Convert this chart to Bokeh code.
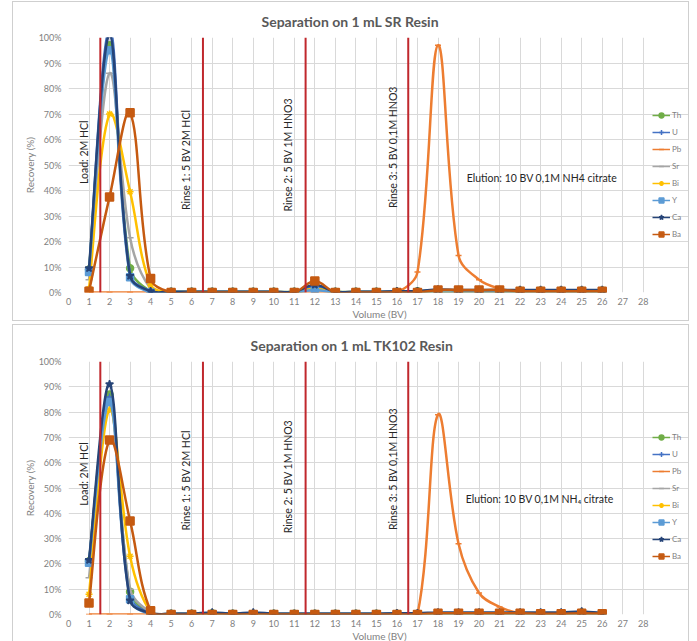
from bokeh.plotting import figure
from bokeh.layouts import column
from bokeh.models import (Range1d, FixedTicker, PrintfTickFormatter, Legend, LegendItem)
from bokeh.core.properties import value
from bokeh.embed import file_html
from bokeh.resources import INLINE
import math

# ---------------- data ----------------
volume = list(range(1, 27))
elements = ["Th", "U", "Pb", "Sr", "Bi", "Y", "Ca", "Ba"]

sr_Th = [9, 97, 9.5, 0.5, 0.3, 0.3, 0.3, 0.3, 0.3, 0.3, 0.3, 2, 0.3, 0.3, 0.3, 0.3, 0.5, 0.8, 0.8, 0.8, 0.8, 0.8, 0.8, 0.8, 0.8, 0.8]
sr_U = [8, 104, 7, 0.5, 0.2, 0.2, 0.2, 0.2, 0.2, 0.2, 0.2, 2.5, 0.2, 0.2, 0.2, 0.2, 0.5, 0.8, 0.8, 0.8, 0.8, 0.8, 0.8, 0.8, 0.8, 0.8]
sr_Pb = [0, 0, 0, 0, 0, 0, 0, 0, 0, 0, 0, 0, 0, 0, 0, 0, 8, 97, 14.5, 5, 1.5, 0.3, 0.3, 0.3, 0.3, 0.3]
sr_Sr = [5, 86, 21.5, 1.5, 0.2, 0.2, 0.2, 0.2, 0.2, 0.2, 0.2, 1, 0.2, 0.2, 0.2, 0.2, 0.2, 0.3, 0.3, 0.3, 0.3, 0.3, 0.3, 0.3, 0.3, 0.3]
sr_Bi = [1.5, 70, 39.5, 3, 0, 0, 0, 0, 0, 0, 0, 1.5, 0, 0, 0, 0, 0, 0.2, 0.2, 0.2, 0.2, 0.2, 0.2, 0.2, 0.2, 0.2]
sr_Y = [8, 95, 6, 0, 0, 0, 0, 0, 0, 0, 0, 1, 0, 0, 0, 0, 0, 0, 0, 0, 0, 0, 0, 0, 0, 0]
sr_Ca = [9.5, 101, 6.5, 0.5, 0.3, 0.3, 0.3, 0.3, 0.3, 0.3, 0.3, 3, 0.3, 0.3, 0.3, 0.5, 0.5, 1.2, 1, 1, 1, 1, 1, 1, 1, 1]
sr_Ba = [0.5, 37.5, 70.5, 5.5, 0, 0, 0, 0, 0, 0, 0, 4.5, 0, 0, 0, 0, 0, 1, 1, 1, 1, 0.5, 0.5, 0.5, 0.5, 0.5]

tk_Th = [21, 87, 9, 0.5, 0.3, 0.3, 0.5, 0.3, 0.3, 0.3, 0.3, 0.3, 0.3, 0.3, 0.3, 0.3, 0.3, 0.5, 0.5, 0.5, 0.5, 0.5, 0.5, 0.5, 0.8, 0.5]
tk_U = [21, 86, 7, 0.5, 0.3, 0.3, 0.5, 0.3, 0.5, 0.3, 0.3, 0.3, 0.3, 0.3, 0.3, 0.3, 0.3, 0.5, 0.5, 0.5, 0.5, 0.5, 0.5, 0.5, 1, 0.5]
tk_Pb = [0, 0, 0, 0, 0, 0, 0, 0, 0, 0, 0, 0, 0, 0, 0, 0, 0, 79, 28, 8.5, 3, 0.5, 0.3, 0.3, 0.3, 0.3]
tk_Sr = [14.5, 84, 10, 1, 0.2, 0.2, 0.2, 0.2, 0.2, 0.2, 0.2, 0.2, 0.2, 0.2, 0.2, 0.2, 0.2, 0.3, 0.3, 0.3, 0.3, 0.3, 0.3, 0.3, 0.3, 0.3]
tk_Bi = [8, 81, 23, 1, 0, 0, 0, 0, 0, 0, 0, 0, 0, 0, 0, 0, 0, 0.2, 0.2, 0.2, 0.2, 0.2, 0.2, 0.2, 0.2, 0.2]
tk_Y = [20.5, 84, 6, 0, 0, 0, 0, 0, 0, 0, 0, 0, 0, 0, 0, 0, 0, 0, 0, 0, 0, 0, 0, 0, 0, 0]
tk_Ca = [21.5, 91, 5.5, 0.5, 0.3, 0.3, 0.8, 0.3, 0.8, 0.3, 0.3, 0.3, 0.3, 0.3, 0.3, 0.5, 0.5, 0.8, 0.8, 0.8, 0.8, 0.8, 0.8, 0.8, 1.2, 0.5]
tk_Ba = [4.5, 69, 37, 1.5, 0, 0, 0, 0, 0, 0, 0, 0, 0, 0, 0, 0, 0, 0.5, 0.5, 0.5, 0.5, 0.5, 0.3, 0.3, 0.5, 0.3]

step_bounds = [1.55, 6.55, 11.55, 16.55]
step_labels = ["Load: 2M HCl", "Rinse 1: 5 BV 2M HCl", "Rinse 2: 5 BV 1M HNO3", "Rinse 3: 5 BV 0,1M HNO3"]
x_ticks = list(range(0, 29))
y_ticks = list(range(0, 101, 10))

# ---------------- styles ----------------
colors = {"Th": "#70AD47", "U": "#4472C4", "Pb": "#ED7D31", "Sr": "#A5A5A5",
          "Bi": "#FFC000", "Y": "#5B9BD5", "Ca": "#264478", "Ba": "#C55A11"}
markers = {"Th": ("circle", 7), "U": ("cross", 7), "Pb": ("dash", 6), "Sr": ("dash", 7),
           "Bi": ("asterisk", 7), "Y": ("square", 7), "Ca": ("star", 8), "Ba": ("square", 8)}
FONT = "Lato"
SX, SY = 20.5, 2.53   # px per data unit, used to weight the smoothing
TENSION = 0.36


def bezier_ctrl(xs, ys):
    n = len(xs)

    def dist(i, j):
        return math.hypot((xs[j] - xs[i]) * SX, (ys[j] - ys[i]) * SY)

    tang = []
    for i in range(n):
        a = max(i - 1, 0)
        b = min(i + 1, n - 1)
        tang.append((xs[b] - xs[a], ys[b] - ys[a]))
    out = {"x0": [], "y0": [], "x1": [], "y1": [], "cx0": [], "cy0": [], "cx1": [], "cy1": []}
    for i in range(n - 1):
        d_prev = dist(i - 1, i) if i > 0 else 0.0
        d_seg = dist(i, i + 1)
        d_next = dist(i + 1, i + 2) if i + 2 < n else 0.0
        f0 = d_seg / (d_prev + d_seg) if (d_prev + d_seg) > 0 else 0.5
        f1 = d_seg / (d_seg + d_next) if (d_seg + d_next) > 0 else 0.5
        if i == 0:
            f0 = 0.5
        if i + 2 >= n:
            f1 = 0.5
        out["x0"].append(xs[i]); out["y0"].append(ys[i])
        out["x1"].append(xs[i + 1]); out["y1"].append(ys[i + 1])
        out["cx0"].append(xs[i] + tang[i][0] * TENSION * f0)
        out["cy0"].append(ys[i] + tang[i][1] * TENSION * f0)
        out["cx1"].append(xs[i + 1] - tang[i + 1][0] * TENSION * f1)
        out["cy1"].append(ys[i + 1] - tang[i + 1][1] * TENSION * f1)
    return out


def make_panel(title, title_offset, title_standoff, series, label_pos, elution_text, elution_pos,
               frame_h, top_border, bottom_border, margin_top):
    p = figure(frame_width=620, frame_height=frame_h, output_backend="svg", toolbar_location=None,
               x_range=Range1d(0, 30.3), y_range=Range1d(0, 100),
               min_border_left=55, min_border_right=0, min_border_top=top_border,
               min_border_bottom=bottom_border, title=title)
    p.margin = (margin_top, 0, 0, 12)
    p.styles = {"border": "1px solid #cfcfcf"}
    p.title.align = "left"
    p.title.offset = title_offset
    p.title.standoff = title_standoff
    p.title.text_font = FONT
    p.title.text_font_size = "14px"
    p.title.text_font_style = "bold"
    p.title.text_color = "#595959"
    p.outline_line_color = None

    for ax in (p.xaxis, p.yaxis):
        ax.axis_line_color = None
        ax.major_tick_line_color = None
        ax.minor_tick_line_color = None
        ax.major_tick_out = 0
        ax.major_tick_in = 0
        ax.minor_tick_out = 0
        ax.minor_tick_in = 0
        ax.major_label_text_font = FONT
        ax.major_label_text_font_size = "9px"
        ax.major_label_text_color = "#7f7f7f"
        ax.axis_label_text_font = FONT
        ax.axis_label_text_font_size = "10px"
        ax.axis_label_text_font_style = "normal"
        ax.axis_label_text_color = "#7f7f7f"
    p.xaxis.ticker = FixedTicker(ticks=x_ticks)
    p.yaxis.ticker = FixedTicker(ticks=y_ticks)
    p.yaxis.formatter = PrintfTickFormatter(format="%d%%")
    p.xaxis.axis_label = "Volume (BV)"
    p.yaxis.axis_label = "Recovery (%)"
    p.xaxis.axis_label_standoff = 0
    p.xaxis.major_label_standoff = 5
    p.yaxis.axis_label_standoff = 0
    p.yaxis.major_label_standoff = 7
    p.grid.grid_line_color = "#d9d9d9"
    p.grid.grid_line_width = 1
    p.ygrid.bounds = (0, 28)

    items = []
    for el in elements:
        ys = series[el]
        c = colors[el]
        ctrl = bezier_ctrl(volume, ys)
        p.bezier(line_color=c, line_width=2.5, **ctrl)
        mk, sz = markers[el]
        sc = p.scatter(volume, ys, marker=mk, size=sz, fill_color=c, line_color=c, line_width=1.5)
        proxy = p.line(volume, ys, line_color=c, line_width=1.5, visible=False)
        items.append(LegendItem(label=el, renderers=[proxy, sc]))

    # step boundaries
    p.segment(x0=step_bounds, y0=[0] * len(step_bounds), x1=step_bounds, y1=[100] * len(step_bounds),
              line_color="#C0282D", line_width=2)

    lx, ly = label_pos
    p.text(x=lx, y=ly, text=step_labels, angle=math.pi / 2, text_align="center",
           text_baseline="middle", text_font=value(FONT), text_font_size="10.5px", text_color="#262626")
    p.text(x=[elution_pos[0]], y=[elution_pos[1]], text=[elution_text], text_align="left",
           text_baseline="middle", text_font=value(FONT), text_font_size="10.5px", text_color="#262626")

    leg = Legend(items=items, location=(584, 52), orientation="vertical")
    leg.label_text_font = FONT
    leg.label_text_font_size = "8px"
    leg.label_text_color = "#7f7f7f"
    leg.glyph_width = 18
    leg.glyph_height = 12
    leg.label_height = 12
    leg.spacing = 5
    leg.padding = 0
    leg.margin = 0
    leg.label_standoff = 2
    leg.border_line_color = None
    leg.background_fill_alpha = 0
    leg.inactive_fill_alpha = 0
    p.add_layout(leg)
    return p


sr_series = {"Th": sr_Th, "U": sr_U, "Pb": sr_Pb, "Sr": sr_Sr, "Bi": sr_Bi, "Y": sr_Y, "Ca": sr_Ca, "Ba": sr_Ba}
tk_series = {"Th": tk_Th, "U": tk_U, "Pb": tk_Pb, "Sr": tk_Sr, "Bi": tk_Bi, "Y": tk_Y, "Ca": tk_Ca, "Ba": tk_Ba}

p1 = make_panel("Separation on 1 mL SR Resin", 193, 16, sr_series,
                ([0.75, 5.7, 10.7, 15.8], [55, 52, 54, 57]),
                "Elution: 10 BV 0,1M NH4 citrate", (19.4, 45), 253, 35, 26, 1)
p2 = make_panel("Separation on 1 mL TK102 Resin", 182, 16, tk_series,
                ([0.75, 5.7, 10.7, 15.8], [55.5, 53, 54.5, 57.5]),
                "Elution: 10 BV 0,1M NH\u2084 citrate", (19.35, 45.5), 251, 36, 25, 3)

layout = column(p1, p2, spacing=0)
open("out.html", "w").write(file_html(layout, INLINE))
